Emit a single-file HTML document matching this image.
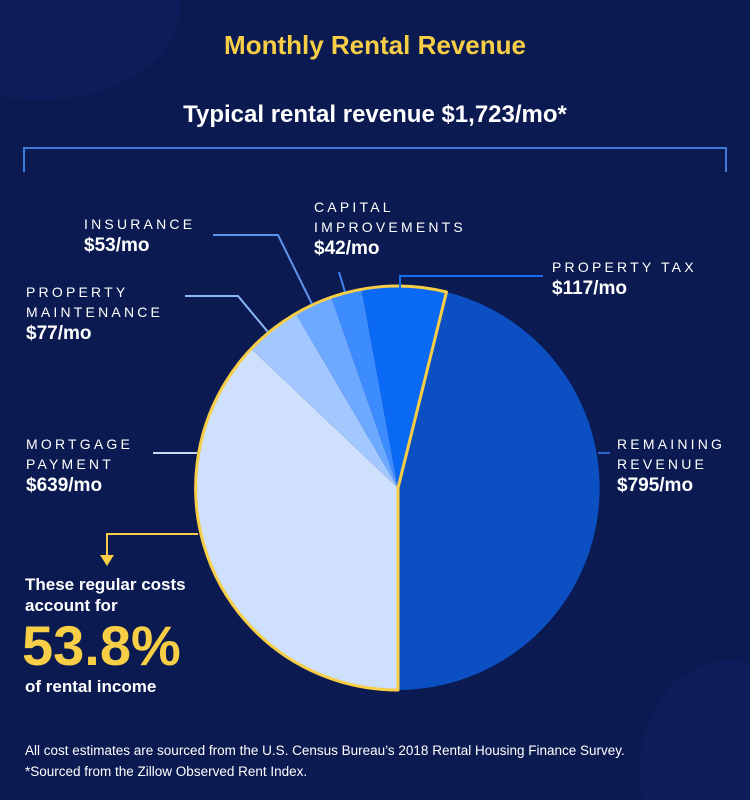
<!DOCTYPE html>
<html><head><style>
html,body{margin:0;background:#0b1a50;overflow:hidden;width:750px;height:800px;}
.w{position:relative;width:750px;height:800px;overflow:hidden;background:#0b1a50;font-family:"Liberation Sans",sans-serif;color:#fff;}
.t{position:absolute;white-space:nowrap;}
.c{font-size:14px;letter-spacing:3.2px;line-height:20px;}
.v{font-size:19px;font-weight:bold;line-height:24px;}
</style></head><body><div class="w">
<svg width="750" height="800" style="position:absolute;left:0;top:0">
<ellipse cx="40" cy="10" rx="140" ry="90" fill="#122266" opacity="0.45"/>
<ellipse cx="730" cy="770" rx="90" ry="110" fill="#122266" opacity="0.45"/>
<path d="M24 172V148H726V172" fill="none" stroke="#3f7bd8" stroke-width="2"/>
<g transform="translate(398,488)">
<path d="M0 0L48.5 -196A202 202 0 0 1 0 202Z" fill="#0b4fc2"/>
<path d="M0 0L0 202A202 202 0 0 1 -146.5 -139Z" fill="#cfe0fc"/>
<path d="M0 0L-146.5 -139A202 202 0 0 1 -102 -174.3Z" fill="#a3c7ff"/>
<path d="M0 0L-102 -174.3A202 202 0 0 1 -66.6 -190.7Z" fill="#6da9ff"/>
<path d="M0 0L-66.6 -190.7A202 202 0 0 1 -36.4 -198.7Z" fill="#3d8cff"/>
<path d="M0 0L-36.4 -198.7A202 202 0 0 1 48.5 -196Z" fill="#0a6af6"/>
<path d="M0 202A202 202 0 1 1 48.5 -196L0 0Z" fill="none" stroke="#f7ce46" stroke-width="3" stroke-linejoin="round"/>
</g>
<g fill="none" stroke-width="2">
<path d="M213 235H278L312 304" stroke="#5b95ee"/>
<path d="M185 296H238L268 332" stroke="#8cb6f5"/>
<path d="M339 272L345 292" stroke="#3f85f0"/>
<path d="M400 289V276H543" stroke="#1a6ef0"/>
<path d="M153 453H197" stroke="#c9d9f5"/>
<path d="M598 453H610" stroke="#2a64d0"/>
<path d="M198 534H107V556" stroke="#f7ce46"/>
</g>
<path d="M100 555H114L107 566Z" fill="#f7ce46"/>
</svg>
<div class="t" style="left:0;width:750px;text-align:center;top:30px;font-size:26px;font-weight:bold;color:#f7ce46">Monthly Rental Revenue</div>
<div class="t" style="left:0;width:750px;text-align:center;top:101px;font-size:24px;font-weight:bold">Typical rental revenue $1,723/mo*</div>
<div class="t" style="left:84px;top:214px"><div class="c">INSURANCE</div><div class="v">$53/mo</div></div>
<div class="t" style="left:314px;top:197px"><div class="c">CAPITAL<br>IMPROVEMENTS</div><div class="v">$42/mo</div></div>
<div class="t" style="left:26px;top:282px"><div class="c">PROPERTY<br>MAINTENANCE</div><div class="v">$77/mo</div></div>
<div class="t" style="left:552px;top:257px"><div class="c">PROPERTY TAX</div><div class="v">$117/mo</div></div>
<div class="t" style="left:26px;top:434px"><div class="c">MORTGAGE<br>PAYMENT</div><div class="v">$639/mo</div></div>
<div class="t" style="left:617px;top:434px"><div class="c">REMAINING<br>REVENUE</div><div class="v">$795/mo</div></div>
<div class="t" style="left:25px;top:574px;font-size:17px;font-weight:bold;line-height:21px">These regular costs<br>account for</div>
<div class="t" style="left:22px;top:614px;font-size:56px;font-weight:bold;color:#f7ce46;line-height:64px">53.8%</div>
<div class="t" style="left:25px;top:677px;font-size:17px;font-weight:bold">of rental income</div>
<div class="t" style="left:25px;top:740px;font-size:13.5px;line-height:21px">All cost estimates are sourced from the U.S. Census Bureau’s 2018 Rental Housing Finance Survey.<br>*Sourced from the Zillow Observed Rent Index.</div>
</div></body></html>
